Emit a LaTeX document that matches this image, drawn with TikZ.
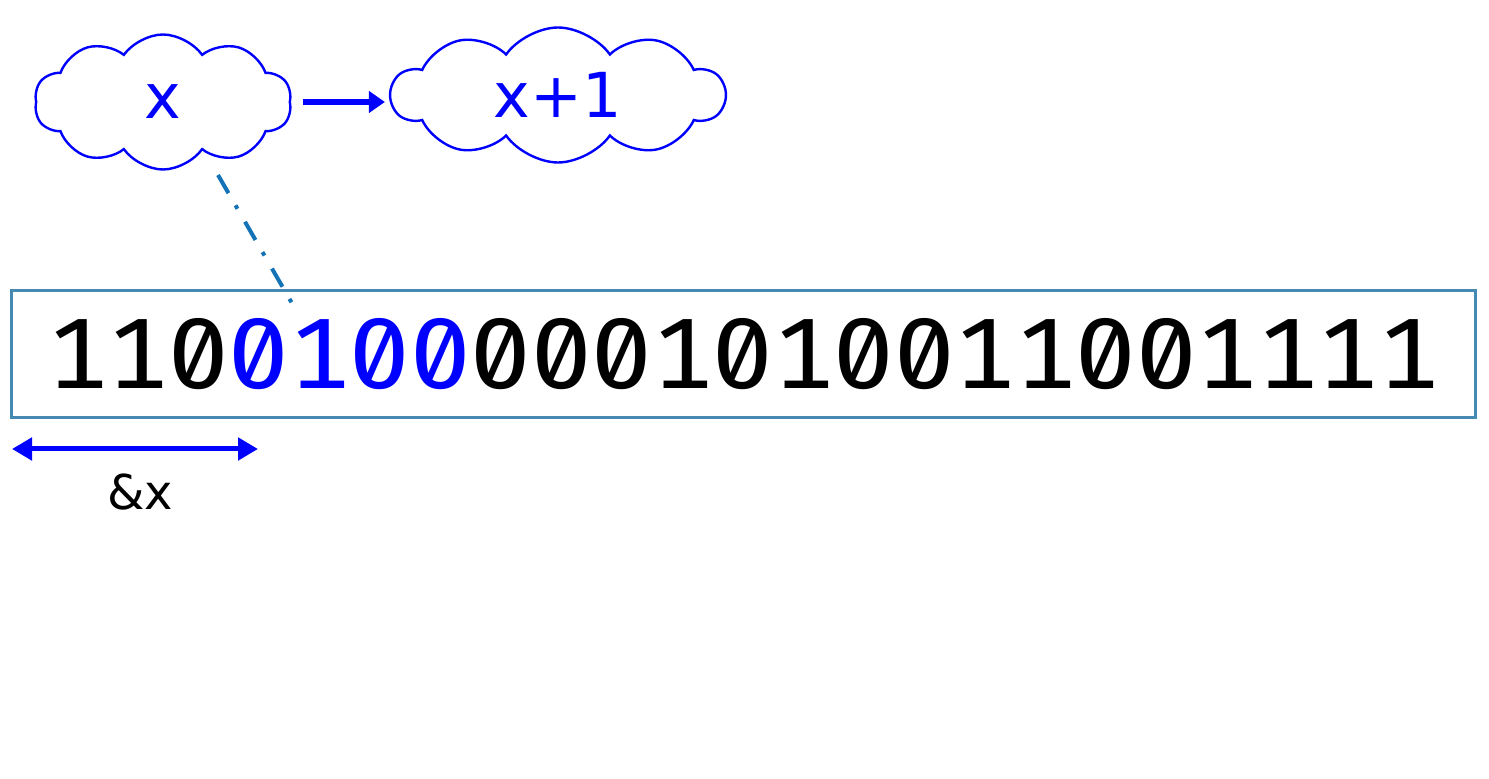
\documentclass[tikz,border=0pt]{standalone}
\usepackage{fontspec}
\usetikzlibrary{shapes.symbols,arrows.meta,positioning}
\newfontfamily\bitsfont{Fira Sans}[Numbers={Monospaced,SlashedZero}, FakeStretch=1.08]
\newfontfamily\labelfont{DejaVu Sans}
\definecolor{boxblue}{RGB}{70,138,180}
\definecolor{linkblue}{RGB}{20,114,182}
\tikzset{
    bubble/.style={cloud, cloud puffs=10, cloud puff arc=110, cloud ignores aspect, draw=blue, line width=1.2pt, text=blue,
        font=\labelfont\fontsize{31}{31}\selectfont, inner sep=0pt},
    membox/.style={draw=boxblue, line width=1.5pt, inner sep=0pt,
        minimum width=732pt, minimum height=63.5pt, font=\bitsfont\fontsize{50}{50}\selectfont},
    link/.style={draw=linkblue, line width=2pt, dash pattern=on 10.5pt off 7pt on 2pt off 7.5pt},
    fat/.style={draw=blue, line width=3pt, -{Triangle[length=8pt,width=10.5pt]}},
    span/.style={draw=blue, line width=2.5pt, {Triangle[length=10pt,width=11pt]}-{Triangle[length=10pt,width=11pt]}}
}
\begin{document}
\begin{tikzpicture}[x=0.5pt,y=-0.5pt]
    \useasboundingbox (0,0) rectangle (1489,779);

    \node[bubble, minimum width=128.5pt, minimum height=67.5pt] (cx) at (163,102) {x};
    \node[bubble, minimum width=166.5pt, minimum height=67.5pt] (cy) at (558,95) {x+1};
    \node[membox] (mem) at (743,354.5) {110\textcolor{blue}{0100}0001010011001111};

    \coordinate (top) at (218,175);
    \coordinate (bit) at (293,305);
    \coordinate (l) at (12,449);
    \coordinate (r) at (258,449);
    \coordinate (mid) at (140,449);
    \node[font=\labelfont\fontsize{24}{24}\selectfont, below=9pt of mid] (addr) {\&x};

    \draw[fat, shorten <=6pt, shorten >=2pt] (cx.east) -- (cx.east -| cy.west);
    \draw[link] (top) -- (bit);
    \draw[span] (l) -- (r);
\end{tikzpicture}
\end{document}
